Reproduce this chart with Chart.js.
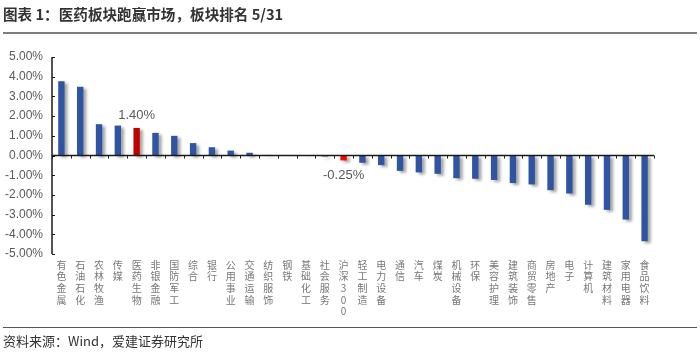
<!DOCTYPE html>
<html>
<head>
<meta charset="utf-8">
<script src="https://cdn.jsdelivr.net/npm/chart.js@4.4.1/dist/chart.umd.min.js"></script>
<style>
    body { margin: 0; background: #fff; }
    #wrap { position: relative; width: 700px; height: 353px; overflow: hidden; }
    #title { position: absolute; left: 3px; top: 3px; font: bold 14.6px "Noto Sans CJK SC", sans-serif; color: #333; }
    #topLine { position: absolute; left: 3px; right: 3px; top: 32px; height: 2px; background: #7f7f7f; }
    #bottomLine { position: absolute; left: 3px; right: 3px; top: 327px; height: 1px; background: #555; }
    #source { position: absolute; left: 3px; top: 331px; font: 13px "Noto Sans CJK SC", sans-serif; color: #333; }
    canvas { position: absolute; left: 0; top: 0; }
</style>
</head>
<body>
<div id="wrap">
    <canvas id="chart" width="700" height="353"></canvas>
    <div id="title">图表 1：医药板块跑赢市场，板块排名 5/31</div>
    <div id="topLine"></div>
    <div id="bottomLine"></div>
    <div id="source">资料来源：Wind，爱建证券研究所</div>
</div>
<script>
// =========================
// DATA
// =========================
const categories = ["有色金属", "石油石化", "农林牧渔", "传媒", "医药生物", "非银金融", "国防军工", "综合", "银行", "公用事业",
    "交通运输", "纺织服饰", "钢铁", "基础化工", "社会服务", "沪深300", "轻工制造", "电力设备", "通信", "汽车",
    "煤炭", "机械设备", "环保", "美容护理", "建筑装饰", "商贸零售", "房地产", "电子", "计算机", "建筑材料",
    "家用电器", "食品饮料"];
const returns = [3.77, 3.49, 1.59, 1.52, 1.40, 1.15, 1.00, 0.63, 0.42, 0.25,
    0.14, 0.03, 0.01, -0.02, -0.05, -0.25, -0.37, -0.49, -0.78, -0.86,
    -0.93, -1.15, -1.18, -1.24, -1.40, -1.47, -1.76, -1.93, -2.50, -2.76,
    -3.25, -4.35];
const yTicks = [5, 4, 3, 2, 1, 0, -1, -2, -3, -4, -5];
const labelled = ["医药生物", "沪深300"];

// split names into stacked characters, one per line
const stacked = categories.map(name => name.match(/[0-9]|./g));

const colors = categories.map(name => {
    if (name === "医药生物") return "#C00000";
    if (name === "沪深300") return "#FF0000";
    return "#2E54A2";
});

// =========================
// PLUGINS
// =========================
const shadowPlugin = {
    id: "barShadow",
    beforeDatasetsDraw(chart) {
        const ctx = chart.ctx;
        ctx.save();
        ctx.shadowColor = "rgba(0,0,0,0.35)";
        ctx.shadowOffsetX = 3;
        ctx.shadowOffsetY = 2;
        ctx.shadowBlur = 3;
    },
    afterDatasetsDraw(chart) {
        chart.ctx.restore();
    }
};

const axisPlugin = {
    id: "axisLines",
    afterDatasetsDraw(chart) {
        const ctx = chart.ctx;
        const x = chart.scales.x;
        const y = chart.scales.y;
        const area = chart.chartArea;
        const zeroY = y.getPixelForValue(0);
        ctx.save();
        ctx.strokeStyle = "#1a1a1a";
        ctx.lineWidth = 1.5;
        // y axis
        ctx.beginPath();
        ctx.moveTo(area.left, y.getPixelForValue(5));
        ctx.lineTo(area.left, y.getPixelForValue(-5));
        ctx.stroke();
        ctx.lineWidth = 1;
        yTicks.forEach(v => {
            const py = Math.round(y.getPixelForValue(v)) + 0.5;
            ctx.beginPath();
            ctx.moveTo(area.left, py);
            ctx.lineTo(area.left + 3, py);
            ctx.stroke();
        });
        // zero line with category ticks
        ctx.lineWidth = 1.5;
        ctx.beginPath();
        ctx.moveTo(area.left, zeroY);
        ctx.lineTo(area.right, zeroY);
        ctx.stroke();
        ctx.lineWidth = 1;
        const step = x.getPixelForValue(1) - x.getPixelForValue(0);
        for (let i = 0; i <= categories.length; i++) {
            const px = Math.round(x.getPixelForValue(0) - step / 2 + i * step) + 0.5;
            ctx.beginPath();
            ctx.moveTo(px, zeroY);
            ctx.lineTo(px, zeroY + 3);
            ctx.stroke();
        }
        ctx.restore();
    }
};

const valueLabelPlugin = {
    id: "valueLabels",
    afterDatasetsDraw(chart) {
        const ctx = chart.ctx;
        const meta = chart.getDatasetMeta(0);
        ctx.save();
        ctx.font = "13px 'Liberation Sans', Arial, sans-serif";
        ctx.fillStyle = "#595959";
        ctx.textAlign = "center";
        ctx.textBaseline = "middle";
        labelled.forEach(name => {
            const i = categories.indexOf(name);
            const bar = meta.data[i];
            const v = returns[i];
            const ty = v >= 0 ? bar.y - 12 : bar.y + 15;
            ctx.fillText(v.toFixed(2) + "%", bar.x, ty);
        });
        ctx.restore();
    }
};

// =========================
// CHART
// =========================
new Chart(document.getElementById("chart"), {
    type: "bar",
    data: {
        labels: stacked,
        datasets: [{
            data: returns,
            backgroundColor: colors,
            barPercentage: 0.34,
            categoryPercentage: 1
        }]
    },
    options: {
        responsive: false,
        animation: false,
        layout: { padding: { top: 57, right: 46, bottom: 0, left: 0 } },
        plugins: {
            legend: { display: false },
            tooltip: { enabled: false }
        },
        scales: {
            x: {
                grid: { display: false, drawTicks: false },
                border: { display: false },
                afterFit: scale => { scale.height = 99; },
                ticks: {
                    autoSkip: false,
                    maxRotation: 0,
                    minRotation: 0,
                    padding: 5,
                    color: "#777",
                    font: { family: "Noto Sans CJK SC", size: 10, lineHeight: 1.17 }
                }
            },
            y: {
                min: -5,
                max: 5,
                grid: { display: false, drawTicks: false },
                border: { display: false },
                afterFit: scale => { scale.width = 52; },
                ticks: {
                    stepSize: 1,
                    padding: 9,
                    color: "#595959",
                    font: { family: "Liberation Sans", size: 12 },
                    callback: v => v.toFixed(2) + "%"
                }
            }
        }
    },
    plugins: [shadowPlugin, axisPlugin, valueLabelPlugin]
});
</script>
</body>
</html>
